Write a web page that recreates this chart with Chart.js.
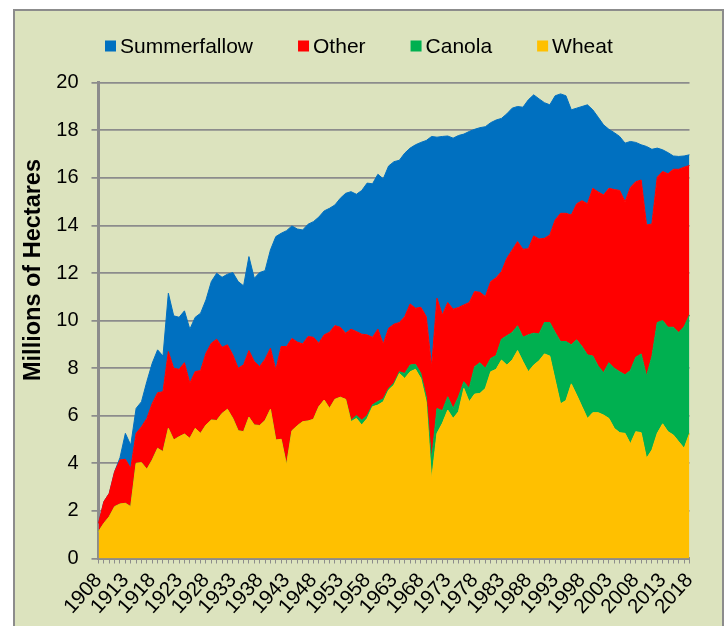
<!DOCTYPE html>
<html>
<head>
<meta charset="utf-8">
<script src="https://cdn.jsdelivr.net/npm/chart.js@4.4.1/dist/chart.umd.min.js"></script>
<style>
  html, body { margin: 0; background: #fff; overflow: hidden; }
  #frame { position: absolute; left: 13px; top: 9px; width: 707px; height: 640px; border: 2px solid #8c8c8c; background: #dce3be; overflow: hidden; }
</style>
</head>
<body>
<div id="frame"><canvas id="cropChart" width="707" height="615"></canvas></div>
<script>
const years = [];
for (let y = 1908; y <= 2018; y++) years.push(String(y));

const wheat = [
  1.13, 1.48, 1.76, 2.18, 2.29, 2.32, 2.18, 4.00, 4.03, 3.75, 4.14, 4.63, 4.49, 5.47, 4.98, 5.12, 5.23, 5.05, 5.47,
  5.26, 5.61, 5.82, 5.80, 6.10, 6.27, 5.89, 5.37, 5.33, 5.94, 5.61, 5.59, 5.80, 6.27, 4.98, 5.01, 3.93, 5.37,
  5.58, 5.75, 5.78, 5.85, 6.38, 6.66, 6.31, 6.69, 6.78, 6.69, 5.75, 5.89, 5.61, 5.89, 6.38, 6.45, 6.59, 7.08, 7.30, 7.78,
  7.57, 7.85, 7.95, 7.57, 6.59, 3.30, 5.26, 5.68, 6.24, 5.89, 6.17, 7.15, 6.59, 6.91, 6.94, 7.15, 7.85, 7.95,
  8.34, 8.13, 8.34, 8.74, 8.28, 7.85, 8.13, 8.31, 8.60, 8.51, 7.50, 6.50, 6.64, 7.34, 6.87, 6.38, 5.89, 6.13, 6.13,
  6.03, 5.89, 5.47, 5.29, 5.26, 4.82, 5.33, 5.29, 4.21, 4.56, 5.26, 5.66, 5.33, 5.19, 4.91, 4.63, 5.26
];

const canola = [
  0, 0, 0, 0, 0, 0, 0, 0, 0, 0,
  0, 0, 0, 0, 0, 0, 0, 0, 0, 0,
  0, 0, 0, 0, 0, 0, 0, 0, 0, 0,
  0, 0, 0, 0, 0, 0, 0, 0, 0, 0,
  0, 0, 0, 0, 0, 0, 0,
  0.05, 0.12, 0.20, 0.12, 0.08, 0.15, 0.12, 0.08, 0.08, 0.07,
  0.21, 0.28, 0.21, 0.21, 0.21, 0.84, 1.05, 0.53, 0.56, 0.42, 0.63, 0.28, 0.56, 1.15, 1.29, 0.85, 0.56, 0.58,
  0.88, 1.23, 1.16, 1.04, 1.02, 1.55, 1.34, 1.13, 1.32, 1.41, 2.00, 2.62, 2.48, 1.64, 2.32, 2.53, 2.67, 2.38, 1.96,
  1.78, 2.34, 2.53, 2.56, 2.46, 3.08, 3.13, 3.31, 3.46, 3.93, 4.66, 4.34, 4.39, 4.53, 4.59, 5.12, 4.98
];

const other = [
  0.35, 0.91, 0.98, 1.47, 1.85, 1.85, 1.61, 1.26, 1.51, 2.14, 2.38, 2.34, 2.52, 3.23, 3.02, 2.83, 3.00, 2.32, 2.39,
  2.64, 3.02, 3.23, 3.42, 2.78, 2.71, 2.67, 2.63, 2.81, 2.80, 2.67, 2.48, 2.58, 2.57, 2.95, 3.90, 4.98, 3.88,
  3.52, 3.27, 3.55, 3.45, 2.67, 2.74, 3.20, 3.10, 2.94, 2.78, 3.84, 3.53, 3.62, 3.39, 2.84, 3.04, 2.31, 2.52, 2.47, 2.07,
  2.39, 2.57, 2.36, 2.78, 3.37, 3.92, 4.63, 4.03, 3.96, 4.17, 3.75, 3.23, 3.61, 3.16, 2.96, 3.01, 3.23, 3.27,
  2.84, 3.26, 3.47, 3.54, 3.70, 3.62, 4.09, 3.99, 3.54, 3.68, 4.73, 5.39, 5.39, 5.46, 5.72, 6.13, 6.35, 7.05, 7.32,
  7.47, 7.33, 7.51, 7.62, 7.28, 7.70, 7.38, 7.31, 6.35, 5.57, 6.11, 6.27, 6.45, 6.64, 6.86, 6.70, 6.28
];

const summerfallow = [
  0, 0, 0, 0, 0.10, 1.09, 0.98, 1.05, 1.05, 1.55, 1.69, 1.80, 1.50, 2.45, 2.20, 2.19, 2.18, 2.27, 2.28,
  2.41, 2.24, 2.59, 2.77, 2.94, 2.97, 3.46, 3.64, 3.32, 3.95, 3.50, 3.95, 3.72, 4.13, 5.60, 4.76, 4.87, 4.73,
  4.75, 4.79, 4.72, 4.86, 5.30, 5.21, 5.21, 5.07, 5.42, 5.88, 5.78, 5.77, 6.04, 6.38, 6.45, 6.51, 6.94, 6.82, 6.83, 6.82,
  6.87, 6.55, 6.87, 6.93, 7.40, 9.68, 6.77, 7.50, 7.00, 7.19, 7.23, 7.18, 7.19, 6.82, 6.92, 7.14, 6.68, 6.63,
  6.44, 6.07, 5.96, 5.68, 5.97, 6.26, 5.93, 5.89, 5.70, 5.47, 5.22, 5.02, 4.94, 4.42, 4.02, 3.96, 4.16, 3.30, 3.14,
  2.95, 2.48, 2.39, 2.27, 2.46, 1.93, 1.65, 1.48, 3.30, 3.14, 1.22, 0.91, 0.89, 0.56, 0.54, 0.47, 0.45
];

const yTicks = [0, 2, 4, 6, 8, 10, 12, 14, 16, 18, 20];

const FONT = '"Liberation Sans", Arial, sans-serif';

// legend + rotated axis title drawn by hand so they sit where Excel put them
const extras = {
  id: 'extras',
  afterDraw(chart) {
    const ctx = chart.ctx;
    ctx.save();
    ctx.font = '21px ' + FONT;
    ctx.textBaseline = 'middle';
    ctx.textAlign = 'left';
    let x = 90;
    const y = 35;
    chart.data.datasets.slice().reverse().forEach(ds => {
      ctx.fillStyle = ds.backgroundColor;
      ctx.fillRect(x, y - 5.5, 11, 11);
      ctx.fillStyle = '#000';
      ctx.fillText(ds.label, x + 15, y + 1);
      x += 15 + ctx.measureText(ds.label).width + 45;
    });
    ctx.translate(19, 259);
    ctx.rotate(-Math.PI / 2);
    ctx.font = 'bold 23.5px ' + FONT;
    ctx.textAlign = 'center';
    ctx.fillText('Millions of Hectares', 0, 0);
    ctx.restore();
  }
};

const area = (label, data, color, fill) => ({
  label: label,
  data: data,
  backgroundColor: color,
  borderColor: color,
  borderWidth: 1,
  pointRadius: 0,
  tension: 0,
  fill: fill
});

new Chart(document.getElementById('cropChart').getContext('2d'), {
  type: 'line',
  data: {
    labels: years,
    datasets: [
      area('Wheat', wheat, '#FFC000', 'origin'),
      area('Canola', canola, '#00B050', '-1'),
      area('Other', other, '#FF0000', '-1'),
      area('Summerfallow', summerfallow, '#0070C0', '-1')
    ]
  },
  options: {
    responsive: false,
    animation: false,
    layout: { padding: { left: 0, right: 32.5, top: 71.7, bottom: 0 } },
    plugins: {
      legend: { display: false },
      tooltip: { enabled: false }
    },
    scales: {
      x: {
        grid: { drawOnChartArea: false, drawTicks: true, tickLength: 5, color: '#8c8c8c', lineWidth: 1 },
        border: { color: '#8c8c8c', width: 3 },
        ticks: {
          autoSkip: false,
          maxRotation: 48,
          minRotation: 48,
          padding: 5,
          color: '#000',
          font: { family: FONT, size: 20.5 },
          callback: function (v, i) { return i % 5 === 0 ? years[i] : ''; }
        },
        afterFit: s => { s.height = 67.5; }
      },
      y: {
        stacked: true,
        min: yTicks[0],
        max: yTicks[yTicks.length - 1],
        ticks: { stepSize: 2, padding: 13, color: '#000', font: { family: FONT, size: 20 } },
        grid: { color: '#8c8c8c', lineWidth: 1.75, tickLength: 7 },
        border: { color: '#8c8c8c', width: 3 },
        afterFit: s => { s.width = 83.5; }
      }
    }
  },
  plugins: [extras]
});
</script>
</body>
</html>
